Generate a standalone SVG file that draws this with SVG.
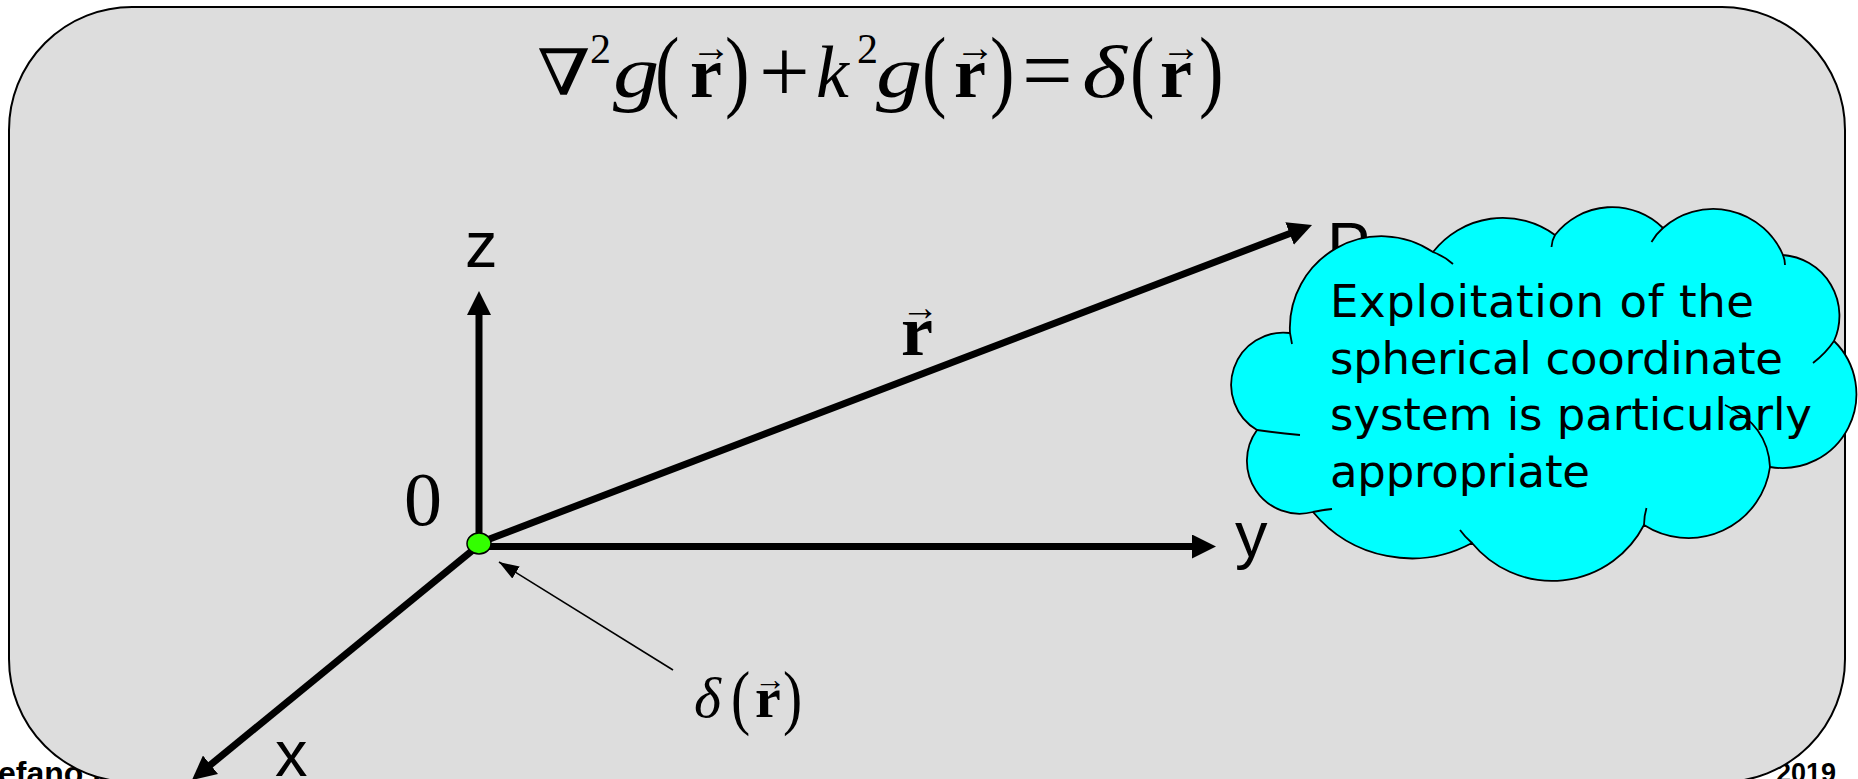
<svg xmlns="http://www.w3.org/2000/svg" width="1858" height="779" viewBox="0 0 1858 779">
<defs>
<style>
.footer{font-family:"Liberation Sans",Arial,sans-serif;font-weight:bold;fill:#000}
.ax{stroke:#000;stroke-width:7;fill:none}
.thin{stroke:#000;stroke-width:1.6;fill:none}
.lbl{font-family:"Liberation Sans",Arial,sans-serif;font-size:65px;fill:#000}
.math{font-family:"Liberation Serif","Times New Roman",serif;fill:#000}
.it{font-style:italic}
.bf{font-weight:bold}
.nab{font-family:"DejaVu Serif","DejaVu Sans",serif}
.cloud{fill:#00ffff;stroke:#000;stroke-width:1.8}
.frag{fill:none;stroke:#000;stroke-width:1.8}
.ctxt{font-family:"DejaVu Sans",sans-serif;font-size:45px;fill:#000}
</style>
<marker id="ah" markerUnits="userSpaceOnUse" viewBox="0 0 24 24" markerWidth="24" markerHeight="24" refX="6" refY="12" orient="auto"><path d="M0,0 L24,12 L0,24 Z" fill="#000"/></marker>
<marker id="ahs" markerUnits="userSpaceOnUse" viewBox="0 0 20 14" markerWidth="20" markerHeight="14" refX="20" refY="7" orient="auto"><path d="M0,0 L20,7 L0,14 Z" fill="#000"/></marker>
</defs>

<g id="footer">
<text class="footer" x="-2" y="784" font-size="32">efano B</text>
<text class="footer" x="1776" y="782" font-size="27">2019</text>
</g>

<g id="panel">
<rect x="9" y="7" width="1836" height="775" rx="123" ry="123" fill="#dddddd" stroke="#000" stroke-width="2"/>
</g>

<g id="equation" class="math">
<text class="nab" transform="translate(537,95) scale(1.2,1)" font-size="64">∇</text>
<text x="590" y="63" font-size="42">2</text>
<text class="it" transform="translate(613,97) scale(1.25,1)" font-size="74">g</text>
<text transform="translate(655,100) scale(0.8,1)" font-size="92">(</text>
<text class="bf" x="690" y="97" font-size="72">r</text>
<text x="691" y="61" font-size="40">→</text>
<text transform="translate(725,100) scale(0.8,1)" font-size="92">)</text>
<text x="759" y="102" font-size="90">+</text>
<text class="it" x="816" y="97" font-size="74">k</text>
<text x="857" y="63" font-size="42">2</text>
<text class="it" transform="translate(876,97) scale(1.25,1)" font-size="74">g</text>
<text transform="translate(922,100) scale(0.8,1)" font-size="92">(</text>
<text class="bf" x="954" y="97" font-size="72">r</text>
<text x="955" y="61" font-size="40">→</text>
<text transform="translate(990,100) scale(0.8,1)" font-size="92">)</text>
<text x="1022" y="101" font-size="90">=</text>
<text class="it" transform="translate(1082,97) scale(1.3,1)" font-size="74">δ</text>
<text transform="translate(1130,100) scale(0.8,1)" font-size="92">(</text>
<text class="bf" x="1160" y="97" font-size="72">r</text>
<text x="1161" y="61" font-size="40">→</text>
<text transform="translate(1199,100) scale(0.8,1)" font-size="92">)</text>
</g>

<g id="connectors">
<line id="z-axis" class="ax" x1="479" y1="544" x2="479" y2="309" marker-end="url(#ah)"/>
<line id="y-axis" class="ax" x1="479" y1="546.5" x2="1198" y2="546.5" marker-end="url(#ah)"/>
<line id="r-vector" class="ax" x1="479" y1="543" x2="1295.2" y2="231.4" marker-end="url(#ah)"/>
<line id="x-axis" class="ax" x1="479" y1="545" x2="205.9" y2="768.6" marker-end="url(#ah)"/>
<line id="delta-pointer" class="thin" x1="673" y1="670" x2="499" y2="562" marker-end="url(#ahs)"/>
</g>

<g id="origin">
<ellipse cx="479" cy="543.5" rx="12" ry="10.5" fill="#33ff00" stroke="#000" stroke-width="1.5"/>
<text class="math" x="404" y="525" font-size="76">0</text>
</g>

<g id="label-z"><text class="lbl" x="465" y="267">z</text></g>
<g id="label-y"><text class="lbl" x="1235" y="557">y</text></g>
<g id="label-x"><text class="lbl" x="275" y="776">x</text></g>

<g id="label-r" class="math">
<text class="bf" x="901" y="355" font-size="72">r</text>
<text x="901" y="320" font-size="38">→</text>
</g>

<g id="label-delta" class="math">
<text class="it" x="694" y="717" font-size="58">δ</text>
<text transform="translate(731,721) scale(0.8,1)" font-size="72">(</text>
<text class="bf" x="755" y="717" font-size="58">r</text>
<text x="754" y="690" font-size="32">→</text>
<text transform="translate(783,721) scale(0.8,1)" font-size="72">)</text>
</g>

<g id="label-P"><text class="lbl" x="1327" y="268">P</text></g>

<g id="cloud-callout">
<path class="cloud" d="M1290,333 A91.7,91.7 0 0 1 1433,252 A88.4,88.4 0 0 1 1555,235 A72.4,72.4 0 0 1 1663,228 A75.8,75.8 0 0 1 1783,255 A61,61 0 0 1 1834,341 A74,74 0 0 1 1770,467 A82.3,82.3 0 0 1 1644,525 A103.6,103.6 0 0 1 1472,543 A127.6,127.6 0 0 1 1313,512 A52.7,52.7 0 0 1 1257,430 A52.3,52.3 0 0 1 1290,333 Z"/>
<path class="frag" d="M1290,333 L1292,344 M1433,252 Q1444,256 1453,264 M1555,235 Q1552,240 1551.5,247 M1663,228 Q1656,234 1651.5,242 M1783,255 Q1785,260 1785,265 M1834,341 Q1826,353 1813,363 M1770,467 Q1768,425 1725,405 M1644,525 Q1644,516 1646.5,508 M1472,543 Q1465,537 1460,530 M1313,512 Q1322,510 1332,509 M1257,430 Q1278,433 1300,435"/>
<text class="ctxt" x="1330" y="317" textLength="424">Exploitation of the</text>
<text class="ctxt" x="1330" y="374" textLength="453">spherical coordinate</text>
<text class="ctxt" x="1330" y="430" textLength="482">system is particularly</text>
<text class="ctxt" x="1330" y="487" textLength="260">appropriate</text>
</g>
</svg>
